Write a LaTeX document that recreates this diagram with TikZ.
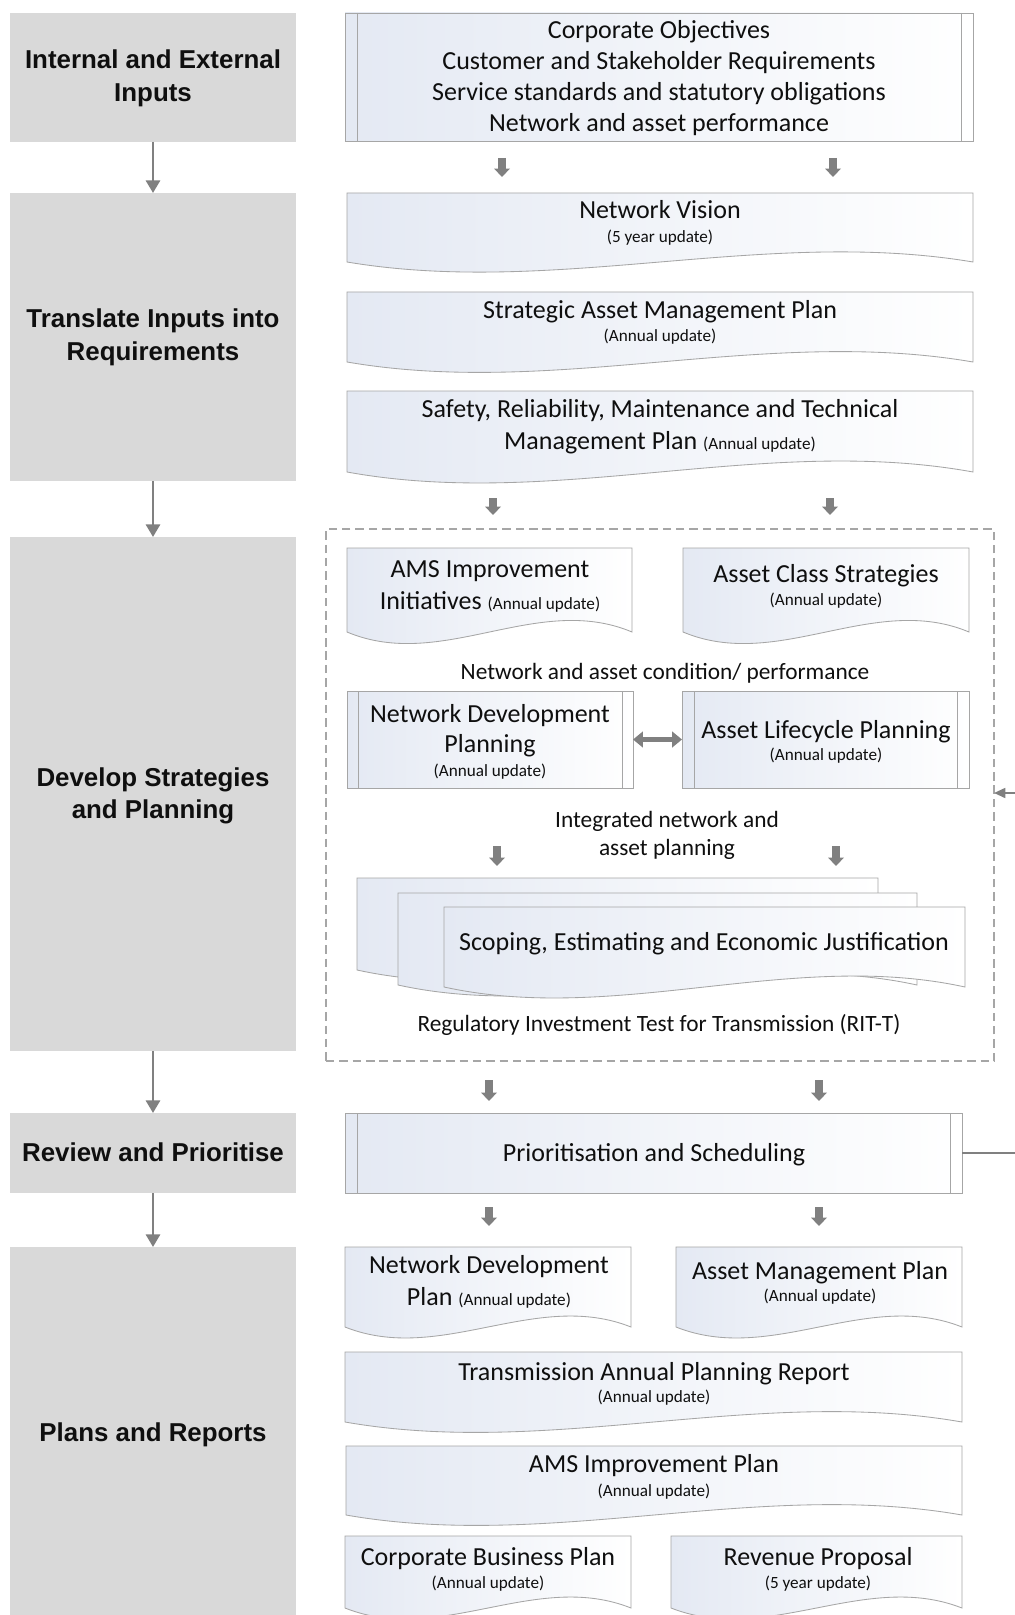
\documentclass[tikz,border=0pt]{standalone}
\usepackage{fontspec}
\setmainfont{Carlito}
\newfontfamily\arialfont{Liberation Sans}
\usetikzlibrary{arrows.meta,fit}
\definecolor{stagegray}{RGB}{217,217,217}
\definecolor{arrowgray}{RGB}{128,128,128}
\definecolor{edgegray}{RGB}{166,166,166}
\definecolor{docblue}{RGB}{228,233,243}
\definecolor{txt}{RGB}{15,15,15}
\newcommand\mainfs{\fontsize{18.5}{22}\selectfont}
\newcommand\midfs{\fontsize{16.6}{20}\selectfont}
\newcommand\smallfs{\fontsize{12.2}{14}\selectfont}
\newcommand\stagefs{\arialfont\bfseries\fontsize{18.4}{22}\selectfont}
\tikzset{
  area/.style={inner sep=0pt, outer sep=0pt, draw=none},
  stagebox/.style={area, fill=stagegray},
  stagetext/.style={anchor=base, inner sep=0pt, font=\stagefs, text=txt},
  mtext/.style={anchor=base, inner sep=0pt, font=\mainfs, text=txt},
  ltext/.style={anchor=base, inner sep=0pt, font=\midfs, text=txt},
  stext/.style={anchor=base, inner sep=0pt, font=\smallfs, text=txt},
  docfill/.style={draw=edgegray, line width=0.6pt, left color=docblue, right color=white},
  bar/.style={draw=edgegray, line width=0.6pt},
  stagearrow/.style={draw=arrowgray, line width=2pt, -{Triangle[width=10pt,length=9pt]}},
  blockarrow/.style={draw=arrowgray, line width=5pt, -{Triangle[width=11pt,length=6pt]}},
  dblarrow/.style={draw=arrowgray, line width=3.5pt, {Triangle[width=11pt,length=7pt]}-{Triangle[width=11pt,length=7pt]}},
  feedback/.style={draw=arrowgray, line width=1.4pt, -{Triangle[width=7pt,length=8pt]}},
  dashbox/.style={draw=edgegray, line width=1pt, dash pattern=on 6pt off 3.5pt, inner sep=0pt, outer sep=0pt},
}
% document shape: name, x0, y0, x1, ycorner, control offset
\newcommand\docshape[6]{%
  \pgfmathsetmacro\dxa{#4-(#4-#2)/3}%
  \pgfmathsetmacro\dxb{#2+(#4-#2)/3}%
  \path[docfill] (#2,#3) -- (#4,#3) -- (#4,#5) .. controls (\dxa,#5-#6) and (\dxb,#5+#6) .. (#2,#5) -- cycle;
  \node[area, fit={(#2,#3) (#4,#5)}] (#1) {};
}
% process box with side bars: name, x0, y0, x1, y1, bar inset
\newcommand\procbox[6]{%
  \path[docfill] (#2,#3) rectangle (#4,#5);
  \draw[bar] (#2+#6,#3) -- (#2+#6,#5) (#4-#6,#3) -- (#4-#6,#5);
  \node[area, fit={(#2,#3) (#4,#5)}] (#1) {};
}
\newcommand\blockarrow[3]{\draw[blockarrow] (#1,#2) -- (#1,#3);}
\begin{document}
\begin{tikzpicture}[x=0.025cm, y=-0.025cm]
\useasboundingbox (0,0) rectangle (1014,1615);
\fill[white] (0,0) rectangle (1014,1615);

% ---- left stages
\node[stagebox, fit={(10,13) (296,142)}] (s1) {};
\node[stagebox, fit={(10,193) (296,481)}] (s2) {};
\node[stagebox, fit={(10,537) (296,1051)}] (s3) {};
\node[stagebox, fit={(10,1113) (296,1193)}] (s4) {};
\node[stagebox, fit={(10,1247) (296,1640)}] (s5) {};
\node[stagetext] (l1a) at (153,69) {Internal and External};
\node[stagetext] (l1b) at (153,102) {Inputs};
\node[stagetext] (l2a) at (153,328) {Translate Inputs into};
\node[stagetext] (l2b) at (153,360) {Requirements};
\node[stagetext] (l3a) at (153,786) {Develop Strategies};
\node[stagetext] (l3b) at (153,818) {and Planning};
\node[stagetext] (l4a) at (153,1161) {Review and Prioritise};
\node[stagetext] (l5a) at (153,1441) {Plans and Reports};
\draw[stagearrow] (s1.south) -- (s2.north);
\draw[stagearrow] (s2.south) -- (s3.north);
\draw[stagearrow] (s3.south) -- (s4.north);
\draw[stagearrow] (s4.south) -- (s5.north);

% ---- inputs
\procbox{inputs}{345}{13}{973}{141}{12}
\node[mtext] (in1) at (659,39) {Corporate Objectives};
\node[mtext] (in2) at (659,70) {Customer and Stakeholder Requirements};
\node[mtext] (in3) at (659,101) {Service standards and statutory obligations};
\node[mtext] (in4) at (659,132) {Network and asset performance};
\blockarrow{502}{158}{177}
\blockarrow{833}{158}{177}

% ---- translate
\docshape{vision}{347}{193}{973}{262}{35}
\node[mtext] (nv1) at (660,219) {Network Vision};
\node[stext] (nv2) at (660,243) {(5 year update)};
\docshape{samp}{347}{292}{973}{362}{36}
\node[mtext] (sa1) at (660,319) {Strategic Asset Management Plan};
\node[stext] (sa2) at (660,342) {(Annual update)};
\docshape{srmt}{347}{391}{973}{472}{38}
\node[mtext] (sr1) at (660,417) {Safety, Reliability, Maintenance and Technical};
\node[mtext] (sr2) at (660,449) {Management Plan {\smallfs(Annual update)}};
\blockarrow{493}{498}{515}
\blockarrow{830}{498}{515}

% ---- develop (dashed group)
\node[dashbox, fit={(326,529) (994,1061)}] (dash) {};
\docshape{amsi}{347}{548}{632}{632}{40}
\node[mtext] (am1) at (490,577) {AMS Improvement};
\node[mtext] (am2) at (490,609) {Initiatives {\smallfs(Annual update)}};
\docshape{acs}{683}{548}{969}{632}{40}
\node[mtext] (ac1) at (826,582) {Asset Class Strategies};
\node[stext] (ac2) at (826,605) {(Annual update)};
\node[ltext] (cond) at (665,679) {Network and asset condition/ performance};
\procbox{ndp}{347}{691}{633}{788}{11}
\node[mtext] (nd1) at (490,722) {Network Development};
\node[mtext] (nd2) at (490,752) {Planning};
\node[stext] (nd3) at (490,776) {(Annual update)};
\procbox{alp}{682}{691}{969}{788}{12}
\node[mtext] (al1) at (826,738) {Asset Lifecycle Planning};
\node[stext] (al2) at (826,760) {(Annual update)};
\draw[dblarrow] (ndp.east) -- (alp.west);
\node[ltext] (int1) at (667,827) {Integrated network and};
\node[ltext] (int2) at (667,855) {asset planning};
\blockarrow{497}{846}{866}
\blockarrow{836}{846}{866}
\docshape{sc3}{357}{878}{878}{970}{38}
\docshape{sc2}{398}{893}{917}{985}{38}
\docshape{sc1}{444}{907}{965}{987}{38}
\node[mtext] (sc) at (704,950) {Scoping, Estimating and Economic Justification};
\node[ltext] (rit) at (659,1031) {Regulatory Investment Test for Transmission (RIT-T)};
\blockarrow{489}{1080}{1101}
\blockarrow{819}{1080}{1101}

% ---- review
\procbox{prio}{345}{1113}{962}{1193}{12}
\node[mtext] (pr) at (654,1161) {Prioritisation and Scheduling};
\draw[feedback] (prio.east) -- (1040,1153) -- (1040,793) -- (dash.east |- 1040,793);
\blockarrow{489}{1207}{1226}
\blockarrow{819}{1207}{1226}

% ---- plans and reports
\docshape{ndplan}{345}{1247}{631}{1327}{38}
\node[mtext] (np1) at (489,1273) {Network Development};
\node[mtext] (np2) at (489,1305) {Plan {\smallfs(Annual update)}};
\docshape{amplan}{676}{1247}{962}{1327}{38}
\node[mtext] (ap1) at (820,1279) {Asset Management Plan};
\node[stext] (ap2) at (820,1301) {(Annual update)};
\docshape{tapr}{345}{1352}{962}{1422}{36}
\node[mtext] (ta1) at (654,1380) {Transmission Annual Planning Report};
\node[stext] (ta2) at (654,1402) {(Annual update)};
\docshape{amsp}{346}{1446}{962}{1515}{36}
\node[mtext] (ip1) at (654,1472) {AMS Improvement Plan};
\node[stext] (ip2) at (654,1496) {(Annual update)};
\docshape{cbp}{345}{1536}{631}{1608}{38}
\node[mtext] (cb1) at (488,1565) {Corporate Business Plan};
\node[stext] (cb2) at (488,1588) {(Annual update)};
\docshape{rev}{671}{1536}{962}{1608}{38}
\node[mtext] (rv1) at (818,1565) {Revenue Proposal};
\node[stext] (rv2) at (818,1588) {(5 year update)};
\end{tikzpicture}
\end{document}
